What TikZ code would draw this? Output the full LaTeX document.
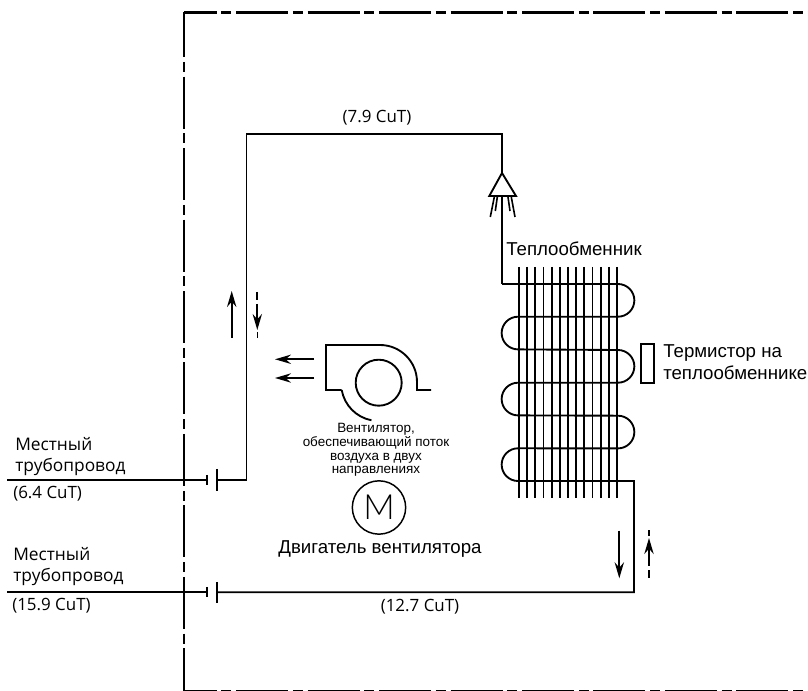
\documentclass[tikz,border=0pt]{standalone}
\usepackage{fontspec}
\setmainfont{Liberation Sans}
\newfontfamily\pipefont{Open Sans}
\newfontfamily\motorfont{Lato Light}
\usepackage{tikz}
\usetikzlibrary{arrows.meta}

\tikzset{
  frameline/.style={line width=2.1pt, dash pattern=on 39pt off 3.6pt on 7.4pt off 3.6pt},
  pipe/.style={line width=1.4pt},
  thinpipe/.style={line width=1.2pt},
  flowtip/.style={-{Stealth[length=12pt, width=7pt, inset=4pt]}},
  dashflow/.style={line width=1.4pt, dash pattern=on 6pt off 3pt on 30pt off 3pt},
  pipelabel/.style={font=\pipefont\fontsize{13}{15.75}\selectfont, align=left, inner sep=0pt},
  sizelabel/.style={font=\pipefont\fontsize{12.7}{15}\selectfont, inner sep=0pt},
  partlabel/.style={font=\fontsize{14}{16.2}\selectfont, align=left, inner sep=0pt},
}

\begin{document}
\begin{tikzpicture}[x=0.75pt, y=-0.75pt]
\useasboundingbox (0,0) rectangle (808,691);

% frame
\coordinate (FrameCorner) at (184,12.5);
\coordinate (FrameRight) at (808,12.5);
\coordinate (FrameBottom) at (184,691);
\coordinate (FrameEnd) at (808,691);
\begin{scope}
\clip (0,0) rectangle (808,691);
\draw[frameline, dash phase=14.5pt] (FrameCorner) -- (FrameRight);
\draw[frameline, dash phase=5.5pt] (FrameCorner) -- (FrameBottom);
\draw[frameline, dash phase=14.5pt] (FrameBottom) -- (FrameEnd);
\end{scope}

% upper pipe
\coordinate (InA) at (7,480);
\coordinate (FlareA) at (206.7,480);
\coordinate (UnionA) at (216.7,480);
\coordinate (RiseA) at (246.5,480);
\coordinate (TopA) at (246.5,134);
\coordinate (TopB) at (502,134);
\coordinate (Apex) at (502,173);
\coordinate (ConeL) at (489.3,196);
\coordinate (ConeR) at (516,196);
\coordinate (ConeM) at (502,196);
\coordinate (CoilIn) at (502,284);
\draw[pipe] (InA) -- (FlareA);
\draw[pipe] (206.7,475) -- (206.7,485);
\draw[pipe] (216.7,469) -- (216.7,491);
\draw[pipe] (UnionA) -- (RiseA) -- (TopA) -- (TopB) -- (Apex);
\draw[pipe, line join=miter] (Apex) -- (ConeL) -- (ConeR) -- cycle;
\draw[pipe] (ConeM) -- (CoilIn);
\draw[thinpipe] (494.3,197) -- (490.3,217);
\draw[thinpipe] (497.3,197) -- (495.3,211);
\draw[thinpipe] (508,197) -- (510,211);
\draw[thinpipe] (511.3,197) -- (515,217);

% coil
\foreach \i in {0,...,12}
{
  \draw[pipe] ({519+8.17*\i},267) -- ({519+8.17*\i},498);
}
\draw[pipe] (CoilIn) -- (618,284) arc[start angle=-90, end angle=90, radius=16.35]
  -- (518,316.7) arc[start angle=-90, end angle=-270, radius=16.35]
  -- (618,350) arc[start angle=-90, end angle=90, radius=16.35]
  -- (518,382.7) arc[start angle=-90, end angle=-270, radius=16.35]
  -- (618,415.7) arc[start angle=-90, end angle=90, radius=16.35]
  -- (518,448.3) arc[start angle=-90, end angle=-270, radius=16.35]
  -- (634,481) -- (634,592.3) -- (216.7,592.3);

% lower pipe
\coordinate (InB) at (7,592.3);
\coordinate (FlareB) at (206.7,592.3);
\draw[pipe] (InB) -- (FlareB);
\draw[pipe] (206.7,587) -- (206.7,597);
\draw[pipe] (216.7,582) -- (216.7,603);

% sensor
\node[draw, line width=1.3pt, minimum width=10pt, minimum height=28.8pt, inner sep=0pt] (Sensor) at (647.3,363.5) {};

% fan
\coordinate (FanC) at (378.7,382.7);
\draw[pipe] (FanC) circle (23);
\draw[pipe] (341.7,390) -- (326,390) -- (326,345) -- (380,345) arc[start angle=-90, end angle=0, radius=37] -- (417,390) -- (431,390);
\draw[pipe] (341.7,390) arc[start angle=170, end angle=101, radius=37.5];

% flow arrows
\draw[pipe, flowtip] (231.7,338) -- (231.7,291);
\draw[dashflow, flowtip] (257.3,292) -- (257.3,330);
\draw[thinpipe] (257.3,332) -- (257.3,338);
\draw[pipe, flowtip] (314,359.3) -- (275,359.3);
\draw[pipe, flowtip] (314,378) -- (275,378);
\draw[pipe, flowtip] (619.3,530.7) -- (619.3,578.3);
\draw[dashflow, flowtip] (649,578) -- (649,538);
\draw[thinpipe] (649,536) -- (649,530);

% motor
\node[draw, circle, line width=1.1pt, minimum size=40pt, inner sep=0pt, font=\motorfont\fontsize{26}{26}\selectfont] (Motor) at (379,507.5) {M};

% labels
\node[pipelabel, anchor=base west] (PipeA) at (15,472) {Местный\\трубопровод};
\node[sizelabel, anchor=west] (SizeA) at (13,493.5) {(6.4 CuT)};
\node[pipelabel, anchor=base west] (PipeB) at (13,582) {Местный\\трубопровод};
\node[sizelabel, anchor=west] (SizeB) at (12,605.5) {(15.9 CuT)};
\node[sizelabel] (SizeTop) at (377,117.5) {(7.9 CuT)};
\node[sizelabel] (SizeLow) at (420,607) {(12.7 CuT)};
\node[partlabel, anchor=base west] (CoilLabel) at (506,255.5) {Теплообменник};
\node[partlabel, anchor=base west] (SensorLabel) at (663,379.5) {Термистор на\\теплообменнике};
\node[font=\fontsize{10.1}{10.4}\selectfont, align=center, inner sep=0pt, anchor=base] (FanLabel) at (376,474) {Вентилятор,\\обеспечивающий поток\\воздуха в двух\\направлениях};
\node[partlabel, anchor=base] (MotorLabel) at (380,554) {Двигатель вентилятора};
\end{tikzpicture}
\end{document}
